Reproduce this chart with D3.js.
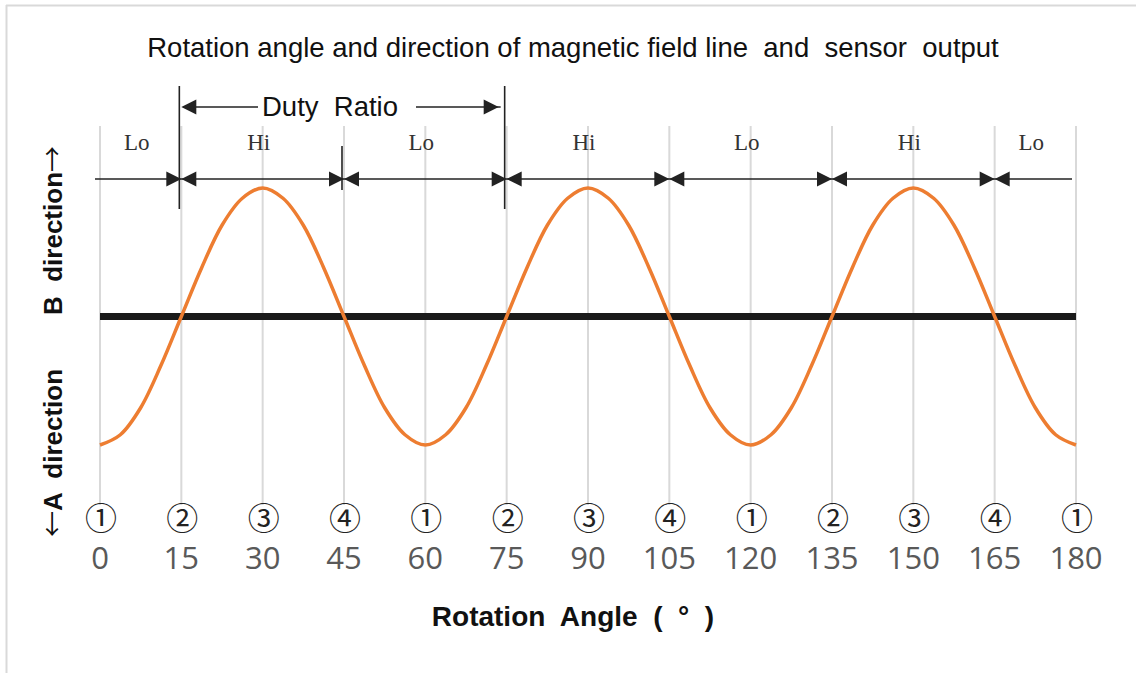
<!DOCTYPE html>
<html>
<head>
<meta charset="utf-8">
<title>Rotation angle and sensor output</title>
<script src="https://cdn.jsdelivr.net/npm/d3@7"></script>
<style>
  body { margin: 0; background: #fff; }
  svg { display: block; font-family: "Liberation Sans", Arial, sans-serif; }
</style>
</head>
<body>
<svg id="chart" width="1136" height="673"></svg>
<script>
// tick angles and the circled phase marks under them
var angles = [0, 15, 30, 45, 60, 75, 90, 105, 120, 135, 150, 165, 180];
var phaseMarks = ["①", "②", "③", "④", "①", "②", "③", "④", "①", "②", "③", "④", "①"];

// sensor output (every 3.75 degrees)
var curveAngles = [0, 3.75, 7.5, 11.25, 15, 18.75, 22.5, 26.25, 30, 33.75, 37.5, 41.25,
                   45, 48.75, 52.5, 56.25, 60, 63.75, 67.5, 71.25, 75, 78.75, 82.5, 86.25,
                   90, 93.75, 97.5, 101.25, 105, 108.75, 112.5, 116.25, 120, 123.75, 127.5, 131.25,
                   135, 138.75, 142.5, 146.25, 150, 153.75, 157.5, 161.25, 165, 168.75, 172.5, 176.25,
                   180];
var curveValues = [-1, -0.92, -0.71, -0.38, 0, 0.38, 0.71, 0.92,
                   1, 0.92, 0.71, 0.38, 0, -0.38, -0.71, -0.92,
                   -1, -0.92, -0.71, -0.38, 0, 0.38, 0.71, 0.92,
                   1, 0.92, 0.71, 0.38, 0, -0.38, -0.71, -0.92,
                   -1, -0.92, -0.71, -0.38, 0, 0.38, 0.71, 0.92,
                   1, 0.92, 0.71, 0.38, 0, -0.38, -0.71, -0.92,
                   -1];

// Lo / Hi segments
var segStarts = [0, 15, 45, 75, 105, 135, 165];
var segEnds = [15, 45, 75, 105, 135, 165, 180];
var segLabels = ["Lo", "Hi", "Lo", "Hi", "Lo", "Hi", "Lo"];
var switchAngles = [15, 45, 75, 105, 135, 165];

var svg = d3.select("#chart");

var x = d3.scaleLinear().domain([0, 180]).range([100, 1076]);
var y = d3.scaleLinear().domain([-1, 1]).range([445, 188]);

// frame lines (top and left)
svg.append("line").attr("x1", 6).attr("x2", 1136).attr("y1", 5.5).attr("y2", 5.5)
    .attr("stroke", "#d9d9d9").attr("stroke-width", 2);
svg.append("line").attr("x1", 6.5).attr("x2", 6.5).attr("y1", 5).attr("y2", 673)
    .attr("stroke", "#d9d9d9").attr("stroke-width", 2);

// title
svg.append("text")
    .attr("x", 573).attr("y", 57)
    .attr("text-anchor", "middle")
    .attr("font-size", 27.5)
    .attr("fill", "#111")
    .attr("xml:space", "preserve")
    .text("Rotation angle and direction of magnetic field line  and  sensor  output");

// vertical gridlines
svg.selectAll(".grid")
    .data(angles)
    .enter().append("line")
    .attr("class", "grid")
    .attr("x1", function(d) { return x(d); })
    .attr("x2", function(d) { return x(d); })
    .attr("y1", 126).attr("y2", 505)
    .attr("stroke", "#d9d9d9")
    .attr("stroke-width", 2);

// zero line
svg.append("line")
    .attr("x1", x(0)).attr("x2", x(180))
    .attr("y1", y(0)).attr("y2", y(0))
    .attr("stroke", "#1a1a1a")
    .attr("stroke-width", 7);

// sensor curve
var line = d3.line()
    .x(function(d, i) { return x(curveAngles[i]); })
    .y(function(d) { return y(d); })
    .curve(d3.curveCatmullRom);

svg.append("path")
    .datum(curveValues)
    .attr("d", line)
    .attr("fill", "none")
    .attr("stroke", "#ed7d31")
    .attr("stroke-width", 3.5);

// Lo/Hi arrow row
var rowY = 179;
svg.append("line")
    .attr("x1", x(0) - 5).attr("x2", x(180) - 4)
    .attr("y1", rowY).attr("y2", rowY)
    .attr("stroke", "#222").attr("stroke-width", 1.6);

function tri(tipX, tipY, dir) {
    // dir = 1 points right, -1 points left
    var bx = tipX - dir * 15;
    return [[tipX, tipY], [bx, tipY - 7.5], [bx, tipY + 7.5]];
}

var bows = svg.selectAll(".bow")
    .data(switchAngles)
    .enter().append("g").attr("class", "bow");
bows.append("polygon")
    .attr("points", function(d) { return tri(x(d), rowY, 1).join(" "); })
    .attr("fill", "#222");
bows.append("polygon")
    .attr("points", function(d) { return tri(x(d), rowY, -1).join(" "); })
    .attr("fill", "#222");

svg.selectAll(".seg")
    .data(segLabels)
    .enter().append("text")
    .attr("class", "seg")
    .attr("x", function(d, i) { return x((segStarts[i] + segEnds[i]) / 2) - 4; })
    .attr("y", 150)
    .attr("text-anchor", "middle")
    .attr("font-family", "'Liberation Serif', 'Times New Roman', serif")
    .attr("font-size", 23)
    .attr("fill", "#333")
    .text(function(d) { return d; });

// duty ratio markers
[15, 75].forEach(function(a) {
    svg.append("line")
        .attr("x1", x(a) - 2).attr("x2", x(a) - 2)
        .attr("y1", 86).attr("y2", 209)
        .attr("stroke", "#222").attr("stroke-width", 1.6);
});
svg.append("line")
    .attr("x1", x(45) - 2).attr("x2", x(45) - 2)
    .attr("y1", 146).attr("y2", 190)
    .attr("stroke", "#222").attr("stroke-width", 1.6);

var dutyY = 107;
svg.append("line").attr("x1", x(15) + 2).attr("x2", 258)
    .attr("y1", dutyY).attr("y2", dutyY).attr("stroke", "#222").attr("stroke-width", 1.6);
svg.append("polygon").attr("points", tri(x(15), dutyY, -1).join(" ")).attr("fill", "#222");
svg.append("line").attr("x1", 416).attr("x2", x(75) - 6)
    .attr("y1", dutyY).attr("y2", dutyY).attr("stroke", "#222").attr("stroke-width", 1.6);
svg.append("polygon").attr("points", tri(x(75) - 8, dutyY, 1).join(" ")).attr("fill", "#222");
svg.append("text")
    .attr("x", 262).attr("y", 116)
    .attr("font-size", 27.5)
    .attr("fill", "#111")
    .attr("xml:space", "preserve")
    .text("Duty  Ratio");

// circled phase marks
svg.selectAll(".mark")
    .data(phaseMarks)
    .enter().append("text")
    .attr("class", "mark")
    .attr("x", function(d, i) { return x(angles[i]) + 1; })
    .attr("y", 530)
    .attr("text-anchor", "middle")
    .attr("font-family", "'Noto Sans CJK JP', 'DejaVu Sans', sans-serif")
    .attr("font-size", 32)
    .attr("fill", "#222")
    .text(function(d) { return d; });

// tick labels
svg.selectAll(".tick")
    .data(angles)
    .enter().append("text")
    .attr("class", "tick")
    .attr("x", function(d) { return x(d); })
    .attr("y", 569)
    .attr("text-anchor", "middle")
    .attr("font-family", "'Open Sans', sans-serif")
    .attr("font-size", 31)
    .attr("fill", "#595959")
    .text(function(d) { return d; });

// axis titles
svg.append("text")
    .attr("x", 573).attr("y", 626)
    .attr("text-anchor", "middle")
    .attr("font-size", 28)
    .attr("font-weight", "bold")
    .attr("fill", "#111")
    .attr("xml:space", "preserve")
    .text("Rotation  Angle  (  °  )");

function yLabel(posY, parts) {
    var t = svg.append("text")
        .attr("transform", "translate(62," + posY + ") rotate(-90)")
        .attr("text-anchor", "start")
        .attr("font-size", 26)
        .attr("font-weight", "bold")
        .attr("fill", "#111")
        .attr("xml:space", "preserve");
    parts.forEach(function(p) {
        var s = t.append("tspan").text(p[0]);
        if (p[1]) s.attr("font-family", "'Noto Sans CJK JP', sans-serif").attr("font-weight", "normal");
    });
}
yLabel(315, [["B  direction"], ["→", true]]);
yLabel(537, [["←", true], ["A  direction"]]);
</script>
</body>
</html>
